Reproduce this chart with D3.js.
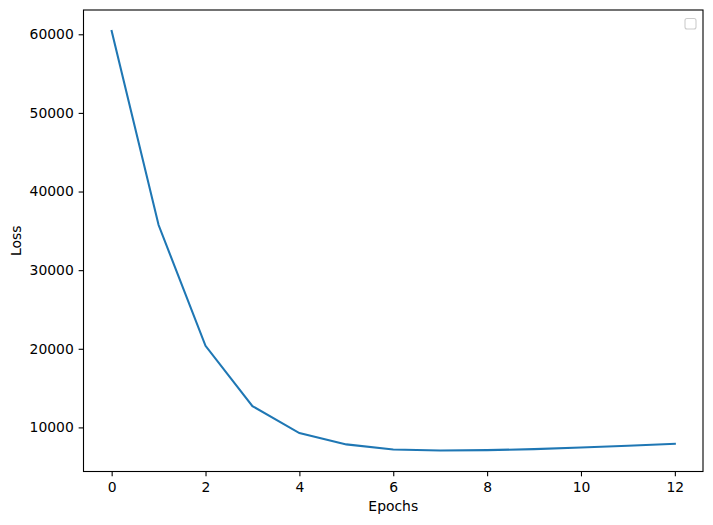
<!DOCTYPE html>
<html>
<head>
  <meta charset="utf-8">
  <script src="https://d3js.org/d3.v7.min.js"></script>
  <style>
    body { margin: 0; background: white; }
    svg { display: block; font-family: "DejaVu Sans", sans-serif; }
  </style>
</head>
<body>
<div id="my_dataviz"></div>
<script>
// values
const epochs = [0, 1, 2, 3, 4, 5, 6, 7, 8, 9, 10, 11, 12]
const loss = [60420, 35740, 20380, 12710, 9280, 7840, 7200, 7060, 7110, 7240, 7440, 7660, 7910]
const xTicks = [0, 2, 4, 6, 8, 10, 12]
const yTicks = [10000, 20000, 30000, 40000, 50000, 60000]

const W = 713, H = 525
const margin = {top: 10, right: 10, bottom: 53.5, left: 83.5}
const width = W - margin.left - margin.right,
    height = H - margin.top - margin.bottom

const svg = d3.select("#my_dataviz")
  .append("svg")
    .attr("width", W)
    .attr("height", H)

const g = svg.append("g")
    .attr("transform", `translate(${margin.left},${margin.top})`)

// matplotlib style 5% padding on both axes
const xExt = d3.extent(epochs), yExt = d3.extent(loss)
const xPad = (xExt[1] - xExt[0]) * 0.05, yPad = (yExt[1] - yExt[0]) * 0.05

const x = d3.scaleLinear()
  .domain([xExt[0] - xPad, xExt[1] + xPad])
  .range([0, width])

const y = d3.scaleLinear()
  .domain([yExt[0] - yPad, yExt[1] + yPad])
  .range([height, 0])

const tickLen = 4.86, tickPad = 4.86

const xAxis = g.append("g")
  .attr("transform", `translate(0, ${height})`)
  .call(d3.axisBottom(x).tickValues(xTicks).tickSize(tickLen).tickPadding(tickPad).tickFormat(d3.format("d")))

const yAxis = g.append("g")
  .call(d3.axisLeft(y).tickValues(yTicks).tickSize(tickLen).tickPadding(tickPad).tickFormat(d3.format("d")))

for (const a of [xAxis, yAxis]) {
  a.select(".domain").remove()
  a.selectAll(".tick line").attr("stroke", "black").attr("stroke-width", 1.1)
  a.selectAll(".tick text")
    .attr("fill", "black")
    .style("font-size", "13.9px")
    .style("font-family", "DejaVu Sans, sans-serif")
}
xAxis.selectAll(".tick text").attr("dy", "0.78em")

// line
g.append("path")
  .datum(epochs.map((e, i) => ({e: e, v: loss[i]})))
  .attr("d", d3.line()
    .x(d => x(d.e))
    .y(d => y(d.v))
  )
  .attr("stroke", "#1f77b4")
  .style("stroke-width", 2.08)
  .style("stroke-linecap", "square")
  .style("fill", "none")

// frame
g.append("rect")
  .attr("width", width)
  .attr("height", height)
  .attr("fill", "none")
  .attr("stroke", "black")
  .attr("stroke-width", 1.1)

// empty legend box
g.append("rect")
  .attr("x", width - 18)
  .attr("y", 8.5)
  .attr("width", 11)
  .attr("height", 10.5)
  .attr("rx", 2)
  .attr("fill", "white")
  .attr("stroke", "#cccccc")
  .attr("stroke-width", 1.1)

svg.append("text")
  .attr("x", margin.left + width / 2)
  .attr("y", 511.3)
  .attr("text-anchor", "middle")
  .style("font-size", "13.9px")
  .text("Epochs")

svg.append("text")
  .attr("transform", `translate(20.5, ${margin.top + height / 2}) rotate(-90)`)
  .attr("text-anchor", "middle")
  .style("font-size", "13.9px")
  .text("Loss")
</script>
</body>
</html>
